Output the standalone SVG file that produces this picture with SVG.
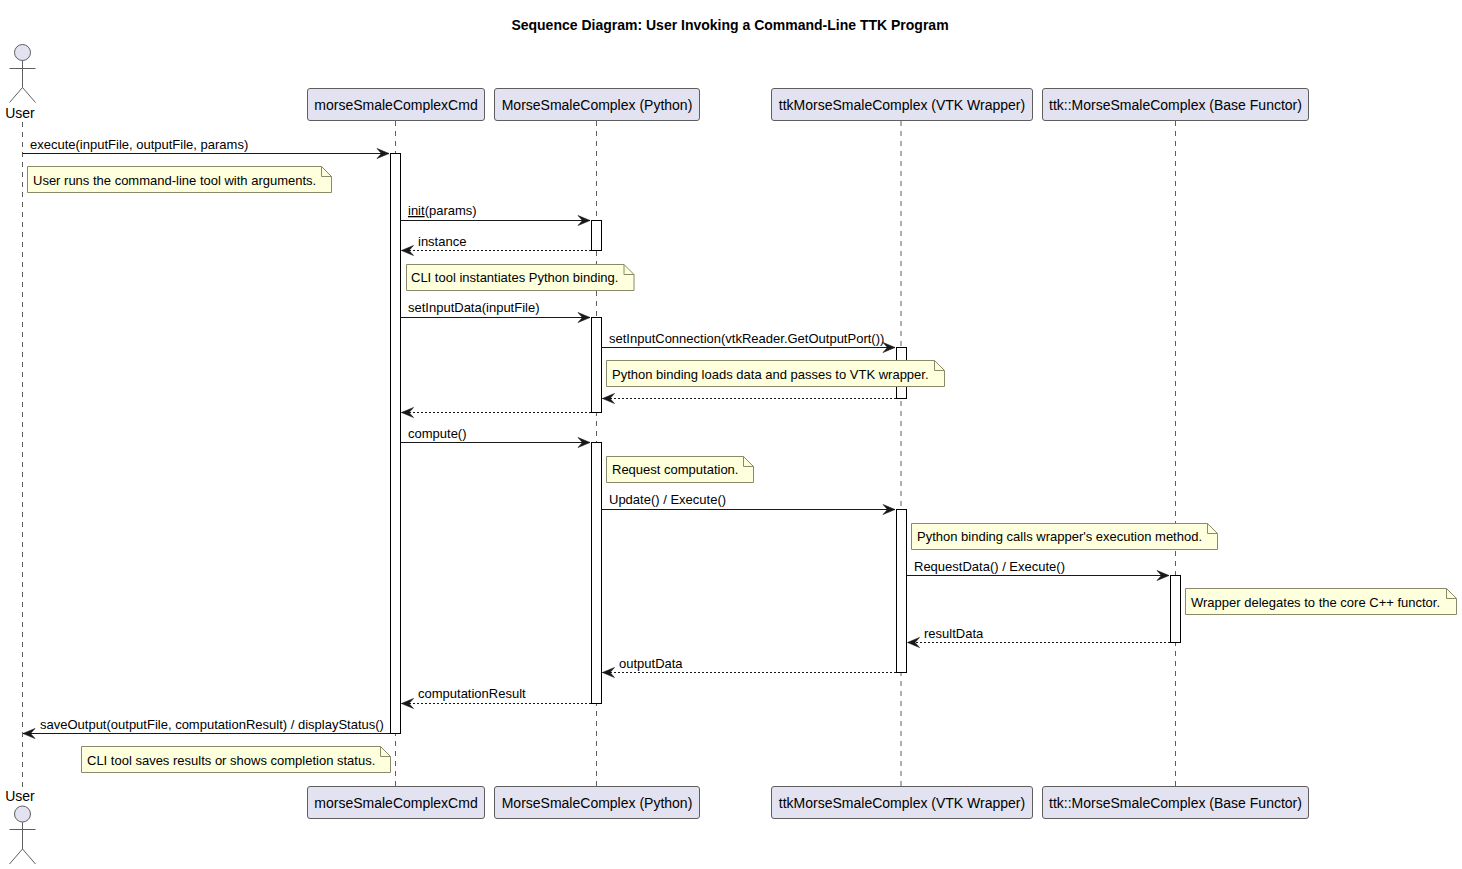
<svg xmlns="http://www.w3.org/2000/svg" width="1462" height="869" viewBox="0 0 1462 869">
<style>
text{font-family:"Liberation Sans",Arial,sans-serif;fill:#000}
.title{font-size:14px;font-weight:bold}
.p{font-size:14px;text-anchor:middle}
.m{font-size:13px}
.n{font-size:13px}
.box{fill:#E2E2F0;stroke:#5E5E5E;stroke-width:1}
.life{stroke:#5E5E5E;stroke-width:1;stroke-dasharray:5 5;fill:none}
.act{fill:#fff;stroke:#000;stroke-width:1}
.note{fill:#FEFFDD;stroke:#8A8A6A;stroke-width:1}
.fold{fill:none;stroke:#8A8A6A;stroke-width:1}
.sol{stroke:#181818;stroke-width:1.1;fill:none;marker-end:url(#a)}
.ret{stroke:#181818;stroke-width:1;stroke-dasharray:2 2;fill:none;marker-end:url(#a)}
.actor{fill:none;stroke:#5E5E5E;stroke-width:1}
.head{fill:#E2E2F0;stroke:#5E5E5E;stroke-width:1}
</style>
<defs>
<marker id="a" markerUnits="userSpaceOnUse" markerWidth="16" markerHeight="14" refX="13" refY="7" orient="auto">
<path d="M1,2 L13,7 L1,12 L5.5,7 Z" fill="#181818" stroke="#181818" stroke-width="0.6"/>
</marker>
</defs>
<rect width="1462" height="869" fill="#fff"/>
<text class="title" x="730" y="30" text-anchor="middle">Sequence Diagram: User Invoking a Command-Line TTK Program</text>

<g id="lifelines">
<line class="life" x1="22.5" y1="122" x2="22.5" y2="787"/>
<line class="life" x1="395.5" y1="121" x2="395.5" y2="787"/>
<line class="life" x1="596.5" y1="121" x2="596.5" y2="787"/>
<line class="life" x1="901" y1="121" x2="901" y2="787"/>
<line class="life" x1="1175.5" y1="121" x2="1175.5" y2="787"/>
</g>

<g id="user-top">
<circle class="head" cx="22.5" cy="52.5" r="8"/>
<path class="actor" d="M22.5,60.5V87.5M9.5,68.5H35.5M22.5,87.5L9.5,102.5M22.5,87.5L35.5,102.5"/>
<text class="p" x="20" y="118">User</text>
</g>
<g id="user-bottom">
<text class="p" x="20" y="801">User</text>
<circle class="head" cx="22.5" cy="814" r="8"/>
<path class="actor" d="M22.5,822V849M9.5,829.5H35.5M22.5,849L9.5,864M22.5,849L35.5,864"/>
</g>
<g id="cmd-top"><rect class="box" x="307.5" y="88.5" width="177" height="32" rx="2.5"/><text class="p" x="396" y="110">morseSmaleComplexCmd</text></g>
<g id="py-top"><rect class="box" x="494.5" y="88.5" width="205" height="32" rx="2.5"/><text class="p" x="597" y="110">MorseSmaleComplex (Python)</text></g>
<g id="vtk-top"><rect class="box" x="771.5" y="88.5" width="261" height="32" rx="2.5"/><text class="p" x="902" y="110">ttkMorseSmaleComplex (VTK Wrapper)</text></g>
<g id="base-top"><rect class="box" x="1042.5" y="88.5" width="266" height="32" rx="2.5"/><text class="p" x="1175.5" y="110">ttk::MorseSmaleComplex (Base Functor)</text></g>
<g id="cmd-bottom"><rect class="box" x="307.5" y="786.5" width="177" height="32" rx="2.5"/><text class="p" x="396" y="808">morseSmaleComplexCmd</text></g>
<g id="py-bottom"><rect class="box" x="494.5" y="786.5" width="205" height="32" rx="2.5"/><text class="p" x="597" y="808">MorseSmaleComplex (Python)</text></g>
<g id="vtk-bottom"><rect class="box" x="771.5" y="786.5" width="261" height="32" rx="2.5"/><text class="p" x="902" y="808">ttkMorseSmaleComplex (VTK Wrapper)</text></g>
<g id="base-bottom"><rect class="box" x="1042.5" y="786.5" width="266" height="32" rx="2.5"/><text class="p" x="1175.5" y="808">ttk::MorseSmaleComplex (Base Functor)</text></g>

<g id="activations">
<rect class="act" x="390.5" y="153.5" width="10" height="580"/>
<rect class="act" x="591.5" y="220.5" width="10" height="30"/>
<rect class="act" x="591.5" y="317.5" width="10" height="95"/>
<rect class="act" x="591.5" y="442.5" width="10" height="261"/>
<rect class="act" x="896.5" y="347.5" width="10" height="51"/>
<rect class="act" x="896.5" y="509.5" width="10" height="163"/>
<rect class="act" x="1170.5" y="575.5" width="10" height="67"/>
</g>

<g id="connectors">
<line class="sol" x1="22.5" y1="153.5" x2="389" y2="153.5"/>
<line class="sol" x1="400.5" y1="220.5" x2="590" y2="220.5"/>
<line class="ret" x1="591" y1="250.5" x2="401.5" y2="250.5"/>
<line class="sol" x1="400.5" y1="317.5" x2="590" y2="317.5"/>
<line class="sol" x1="601.5" y1="347.5" x2="895" y2="347.5"/>
<line class="ret" x1="896" y1="398.5" x2="602.5" y2="398.5"/>
<line class="ret" x1="591" y1="412.5" x2="401.5" y2="412.5"/>
<line class="sol" x1="400.5" y1="442.5" x2="590" y2="442.5"/>
<line class="sol" x1="601.5" y1="509.5" x2="895" y2="509.5"/>
<line class="sol" x1="906.5" y1="575.5" x2="1169" y2="575.5"/>
<line class="ret" x1="1170" y1="642.5" x2="907.5" y2="642.5"/>
<line class="ret" x1="896" y1="672.5" x2="602.5" y2="672.5"/>
<line class="ret" x1="591" y1="703.5" x2="401.5" y2="703.5"/>
<line class="sol" x1="390.5" y1="733.5" x2="23" y2="733.5"/>
</g>

<g id="message-labels">
<text class="m" x="30" y="149">execute(inputFile, outputFile, params)</text>
<text class="m" x="408" y="215"><tspan text-decoration="underline">init</tspan>(params)</text>
<text class="m" x="418" y="246">instance</text>
<text class="m" x="408" y="312">setInputData(inputFile)</text>
<text class="m" x="609" y="343">setInputConnection(vtkReader.GetOutputPort())</text>
<text class="m" x="408" y="438">compute()</text>
<text class="m" x="609" y="504">Update() / Execute()</text>
<text class="m" x="914" y="571">RequestData() / Execute()</text>
<text class="m" x="924" y="638">resultData</text>
<text class="m" x="619" y="668">outputData</text>
<text class="m" x="418" y="698">computationResult</text>
<text class="m" x="40" y="729">saveOutput(outputFile, computationResult) / displayStatus()</text>
</g>

<g id="note-1"><path class="note" d="M27.5,166.5H321.5L331.5,176.5V192.5H27.5Z"/><path class="fold" d="M321.5,166.5V176.5H331.5"/><text class="n" x="33" y="185">User runs the command-line tool with arguments.</text></g>
<g id="note-2"><path class="note" d="M406.5,264.5H624L634,274.5V290.5H406.5Z"/><path class="fold" d="M624,264.5V274.5H634"/><text class="n" x="411" y="282">CLI tool instantiates Python binding.</text></g>
<g id="note-3"><path class="note" d="M606.5,360.5H934.5L944.5,370.5V386.5H606.5Z"/><path class="fold" d="M934.5,360.5V370.5H944.5"/><text class="n" x="612" y="379">Python binding loads data and passes to VTK wrapper.</text></g>
<g id="note-4"><path class="note" d="M606.5,456.5H743.5L753.5,466.5V482.5H606.5Z"/><path class="fold" d="M743.5,456.5V466.5H753.5"/><text class="n" x="612" y="474">Request computation.</text></g>
<g id="note-5"><path class="note" d="M911.5,523.5H1207.5L1217.5,533.5V549.5H911.5Z"/><path class="fold" d="M1207.5,523.5V533.5H1217.5"/><text class="n" x="917" y="541">Python binding calls wrapper's execution method.</text></g>
<g id="note-6"><path class="note" d="M1185.5,588.5H1446.5L1456.5,598.5V614.5H1185.5Z"/><path class="fold" d="M1446.5,588.5V598.5H1456.5"/><text class="n" x="1191" y="607">Wrapper delegates to the core C++ functor.</text></g>
<g id="note-7"><path class="note" d="M81.5,746.5H380.5L390.5,756.5V772.5H81.5Z"/><path class="fold" d="M380.5,746.5V756.5H390.5"/><text class="n" x="87" y="765">CLI tool saves results or shows completion status.</text></g>
</svg>
